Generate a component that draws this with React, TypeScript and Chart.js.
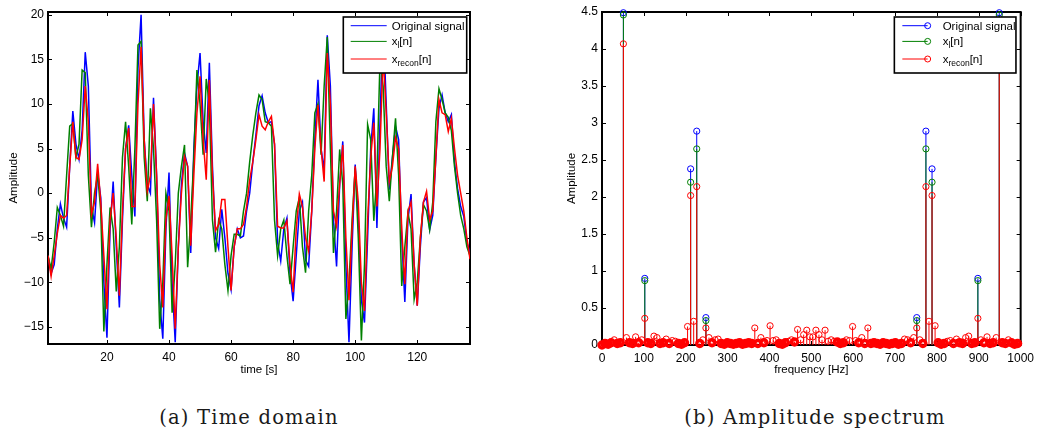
import React, { useEffect, useRef } from "react";
import { Chart, registerables } from "chart.js";

Chart.register(...registerables);

// ---------------- data ----------------
const timeOriginal = [
  -7.0, -9.0, -8.0, -4.0, -1.2, -2.8, -3.8, 3.0, 9.2, 5.5,
  3.8, 7.0, 15.8, 12.0, -1.5, -3.3, 2.3, -0.5, -10.0, -16.2,
  -4.0, 1.3, -6.0, -12.8, -3.0, 5.0, 7.6, 2.0, -2.6, 14.0,
  20.0, 6.0, 1.0, 0.0, 10.7, 2.0, -12.0, -16.3, -4.0, 2.3,
  -10.0, -16.7, -6.0, 1.0, 4.5, 3.0, -6.7, 5.0, 12.0, 15.7,
  8.0, 4.5, 14.6, 3.0, -5.0, -6.2, -1.8, -5.0, -9.0, -10.8,
  -6.0, -4.0, -5.0, -4.8, -2.0, 0.0, 3.5, 6.5, 9.8, 10.9,
  9.0, 7.9, 8.0, 5.5, -5.5, -7.6, -4.0, -2.8, -9.0, -12.1,
  -7.0, -2.0, -1.0, -7.5, -8.2, -2.0, 6.0, 12.7, 5.0, 2.5,
  17.7, 12.0, -3.0, -8.2, 1.0, 5.8, -8.0, -16.7, -6.0, 3.2,
  -3.0, -12.0, -14.5, -5.0, 5.0, 9.5, -3.9, 8.0, 19.5, 10.0,
  0.4, 4.0, 7.5, 6.0, -5.0, -12.2, -3.0, -0.1, -8.0, -12.6,
  -6.0, -1.0, -0.5, -4.1, -2.5, 4.0, 9.5, 11.0, 9.0, 8.0,
  8.8, 3.5, 0.5, -1.5, -2.6, -5.5, -6.7,
];

const timeXl = [
  -7.0, -8.5, -5.5, -1.6, -2.5, -3.7, 2.0, 7.5, 7.8, 4.0,
  5.5, 13.8, 13.5, 2.0, -3.8, 0.0, 2.1, -2.0, -15.5, -8.0,
  -1.6, -4.0, -11.0, -6.0, 4.0, 8.0, 3.0, -3.5, 5.0, 16.6,
  17.0, 4.0, -0.9, 9.5, 5.0, -3.0, -15.2, -10.0, 0.0, -2.0,
  -13.4, -8.0, 0.0, 3.0, 5.4, -8.3, -3.0, 4.0, 13.8, 10.0,
  4.3, 12.8, 10.0, -3.0, -6.6, -3.0, -4.0, -8.0, -10.9, -7.0,
  -4.6, -4.6, -4.8, -2.0, 0.0, 3.5, 6.5, 9.0, 11.0, 10.5,
  8.0, 7.9, 7.5, -3.0, -7.0, -4.0, -3.0, -7.0, -10.2, -6.0,
  -2.0, -0.5, -6.0, -8.9, -2.0, 2.0, 9.0, 10.0, 4.3, 12.0,
  17.5, 5.0, -6.7, -2.0, 4.9, 1.0, -14.1, -10.0, -3.0, 2.8,
  -5.0, -16.5, -8.0, 7.7, 6.0, -3.1, 2.0, 15.0, 12.0, 3.0,
  -0.9, 4.0, 8.4, 2.0, -10.4, -6.0, -2.2, -4.0, -11.9, -10.0,
  -5.0, -1.3, -2.0, -4.1, -1.0, 8.0, 11.7, 10.5, 9.0, 8.5,
  7.0, 3.0, 0.0, -2.5, -4.0, -6.0, -7.0,
];

const timeRecon = [
  -7.0, -9.3, -7.0, -4.5, -2.5, -2.8, -2.5, 3.0, 8.0, 4.0,
  3.8, 6.0, 12.0, 8.0, -2.4, -1.0, 3.3, -1.0, -7.0, -13.0,
  -3.0, 0.0, -5.0, -11.5, -2.0, 5.0, 7.3, -1.5, -1.5, 10.0,
  16.4, 6.0, 0.2, 2.0, 10.0, 2.0, -8.0, -12.8, -3.0, -0.3,
  -7.0, -15.2, -6.0, 0.0, 4.1, 3.0, -5.9, 2.0, 9.0, 13.1,
  6.0, 1.5, 12.7, 2.0, -4.2, -3.5, -0.7, -0.7, -6.0, -10.9,
  -6.0, -4.0, -4.0, -3.5, -1.5, 1.5, 3.5, 6.0, 8.8, 7.5,
  7.1, 8.0, 8.6, 5.5, -3.7, -3.9, -3.9, -3.1, -8.0, -11.1,
  -4.0, -0.1, -1.5, -5.0, -6.5, -2.0, 5.0, 9.9, 5.0, 1.3,
  15.7, 10.0, -2.0, -3.7, 1.0, 5.4, -5.0, -12.0, -4.0, 3.0,
  -1.0, -10.0, -13.2, -3.0, 4.0, 7.9, -1.5, 5.0, 15.5, 9.0,
  1.3, 3.0, 6.2, 5.0, -4.0, -10.2, -2.0, -1.0, -8.0, -12.6,
  -5.0, -1.0, 0.2, -3.0, -2.0, 4.0, 10.5, 9.0, 8.8, 6.9,
  8.4, 5.0, 2.0, 0.0, -2.0, -5.0, -7.4,
];

const timeTicks = [20, 40, 60, 80, 100, 120];
const ampTicks = [-15, -10, -5, 0, 5, 10, 15, 20];
const freqTicks = [0, 100, 200, 300, 400, 500, 600, 700, 800, 900, 1000];
const specTicks = [0, 0.5, 1, 1.5, 2, 2.5, 3, 3.5, 4, 4.5];

const SAMPLE_RATE = 1000;
const peakBins = [7, 14, 29, 31, 34, 103, 106, 108, 123, 130];
const peakOriginal = [4.49, 0.9, 2.38, 2.89, 0.37, 0.37, 2.89, 2.38, 0.9, 4.49];
const peakXl = [4.46, 0.87, 2.2, 2.65, 0.33, 0.33, 2.65, 2.2, 0.87, 4.46];
const specRecon = [
  0.00, 0.02, 0.01, 0.03, 0.07, 0.02, 0.03, 4.07, 0.10, 0.03,
  0.02, 0.11, 0.03, 0.07, 0.36, 0.03, 0.02, 0.12, 0.10, 0.02,
  0.03, 0.08, 0.02, 0.06, 0.05, 0.02, 0.01, 0.03, 0.25, 2.02,
  0.32, 2.14, 0.02, 0.07, 0.23, 0.10, 0.03, 0.07, 0.08, 0.02,
  0.01, 0.03, 0.02, 0.01, 0.02, 0.03, 0.01, 0.02, 0.03, 0.02,
  0.23, 0.02, 0.10, 0.03, 0.06, 0.26, 0.06, 0.07, 0.02, 0.01,
  0.03, 0.05, 0.07, 0.04, 0.21, 0.07, 0.14, 0.20, 0.11, 0.11,
  0.20, 0.14, 0.07, 0.20, 0.05, 0.07, 0.05, 0.04, 0.02, 0.03,
  0.07, 0.06, 0.25, 0.06, 0.03, 0.10, 0.02, 0.23, 0.02, 0.03,
  0.02, 0.01, 0.03, 0.02, 0.01, 0.02, 0.03, 0.01, 0.02, 0.08,
  0.07, 0.03, 0.10, 0.23, 0.07, 0.02, 2.14, 0.32, 2.02, 0.26,
  0.03, 0.01, 0.02, 0.05, 0.06, 0.02, 0.08, 0.03, 0.02, 0.10,
  0.12, 0.02, 0.03, 0.36, 0.07, 0.03, 0.11, 0.02, 0.03, 0.10,
  4.07, 0.03, 0.02, 0.07, 0.03, 0.01, 0.02,
];

const seriesNames = ["Original signal", "x|l|[n]", "x|recon|[n]"];

// ---------------- styles ----------------
const BLUE = "rgb(0,0,255)";
const GREEN = "rgb(0,128,0)";
const RED = "rgb(255,0,0)";
const FONT = '"Liberation Sans", Arial, Helvetica, sans-serif';
const seriesColors = [BLUE, GREEN, RED];

const fmt = (v: any) => String(v).replace("-", "\u2212");

// frame + inward ticks on all four sides
const framePlugin = {
  id: "matFrame",
  beforeDatasetsDraw(chart: any) {
    const { ctx, chartArea: a, scales } = chart;
    const xs = scales.x;
    const ys = scales.y;
    ctx.save();
    ctx.strokeStyle = "#000";
    ctx.lineWidth = 1;
    ctx.beginPath();
    xs.ticks.forEach((t: any) => {
      const p = Math.round(xs.getPixelForValue(t.value)) + 0.5;
      ctx.moveTo(p, a.bottom);
      ctx.lineTo(p, a.bottom - 4);
      ctx.moveTo(p, a.top);
      ctx.lineTo(p, a.top + 4);
    });
    ys.ticks.forEach((t: any) => {
      const p = Math.round(ys.getPixelForValue(t.value)) + 0.5;
      ctx.moveTo(a.left, p);
      ctx.lineTo(a.left + 4, p);
      ctx.moveTo(a.right, p);
      ctx.lineTo(a.right - 4, p);
    });
    ctx.stroke();
    ctx.lineWidth = 2;
    ctx.strokeRect(a.left, a.top, a.right - a.left, a.bottom - a.top);
    ctx.restore();
  },
};

// MATLAB-like legend box with subscripts
const legendPlugin = {
  id: "matLegend",
  afterDraw(chart: any, _args: any, opts: any) {
    if (!opts || !opts.show) return;
    const { ctx, chartArea: a } = chart;
    const w = opts.width;
    const h = 56;
    const x0 = a.right - opts.inset - w;
    const y0 = a.top + 5;
    const rows = [8.7, 24.4, 42];
    ctx.save();
    ctx.fillStyle = "#fff";
    ctx.fillRect(x0, y0, w, h);
    ctx.save();
    ctx.beginPath();
    ctx.rect(x0, y0, w, h);
    ctx.clip();
    seriesNames.forEach((name, i) => {
      const y = y0 + rows[i];
      ctx.strokeStyle = seriesColors[i];
      ctx.lineWidth = 1;
      ctx.beginPath();
      ctx.moveTo(x0 + opts.lineStart, y);
      ctx.lineTo(x0 + opts.lineEnd, y);
      ctx.stroke();
      if (opts.marker) {
        ctx.beginPath();
        ctx.arc(x0 + opts.lineEnd, y, 3, 0, Math.PI * 2);
        ctx.stroke();
      }
      const parts = name.split("|");
      let x = x0 + opts.textStart;
      ctx.fillStyle = "#000";
      ctx.textAlign = "left";
      ctx.textBaseline = "alphabetic";
      parts.forEach((p, j) => {
        const sub = j === 1;
        ctx.font = sub ? `8.5px ${FONT}` : `11.5px ${FONT}`;
        ctx.fillText(p, x, y + (sub ? 7 : 4));
        x += ctx.measureText(p).width;
      });
    });
    ctx.restore();
    ctx.strokeStyle = "#000";
    ctx.lineWidth = 1.6;
    ctx.strokeRect(x0, y0, w, h);
    ctx.restore();
  },
};

const tickFont = { family: FONT, size: 12 };
const titleFont = { family: FONT, size: 11.5 };

function axisX(ticks: number[], min: number, max: number, height: number, title: string) {
  return {
    type: "linear",
    min,
    max,
    afterBuildTicks: (s: any) => {
      s.ticks = ticks.map((value) => ({ value }));
    },
    afterFit: (s: any) => {
      s.height = height;
    },
    grid: { display: false, drawTicks: false },
    border: { display: false },
    ticks: { autoSkip: false, maxRotation: 0, padding: 6, color: "#000", font: tickFont, callback: fmt },
    title: { display: true, text: title, color: "#000", font: titleFont, padding: { top: 0, bottom: 8.6 } },
  };
}

function axisY(ticks: number[], min: number, max: number, width: number, titlePad: number) {
  return {
    type: "linear",
    min,
    max,
    afterBuildTicks: (s: any) => {
      s.ticks = ticks.map((value) => ({ value }));
    },
    afterFit: (s: any) => {
      s.width = width;
    },
    grid: { display: false, drawTicks: false },
    border: { display: false },
    ticks: { autoSkip: false, padding: 4, color: "#000", font: tickFont, callback: fmt },
    title: { display: true, text: "Amplitude", color: "#000", font: titleFont, padding: { top: titlePad, bottom: 0 } },
  };
}

const baseOptions = {
  responsive: false,
  animation: false,
  devicePixelRatio: 1,
  events: [],
};

function timeConfig(): any {
  const series = [timeOriginal, timeXl, timeRecon];
  return {
    type: "line",
    data: {
      datasets: series.map((arr, i) => ({
        label: seriesNames[i],
        data: arr.map((y, n) => ({ x: n + 1, y })),
        borderColor: seriesColors[i],
        borderWidth: 1.5,
        pointRadius: 0,
        tension: 0,
        fill: false,
        order: 3 - i,
      })),
    },
    options: {
      ...baseOptions,
      layout: { padding: { left: 0, right: 20, top: 12, bottom: 0 } },
      scales: {
        x: axisX(timeTicks, 1, timeOriginal.length, 41, "time [s]"),
        y: axisY(ampTicks, -16.9, 20.3, 48, 7.1),
      },
      plugins: {
        legend: { display: false },
        tooltip: { enabled: false },
        matLegend: { show: true, width: 123.4, inset: 3.3, lineStart: 7.4, lineEnd: 43.4, textStart: 48.4, marker: false },
      },
    },
    plugins: [framePlugin, legendPlugin],
  };
}

function specConfig(): any {
  const N = timeOriginal.length;
  const freq = (k: number) => (k * SAMPLE_RATE) / N;
  const allBins = specRecon.map((_, k) => k);
  const stems = (bins: number[], vals: number[]) => {
    const pts: any[] = [];
    bins.forEach((k, i) => {
      pts.push({ x: freq(k), y: 0 }, { x: freq(k), y: vals[i] }, { x: freq(k), y: null });
    });
    return pts;
  };
  const marks = (bins: number[], vals: number[]) => bins.map((k, i) => ({ x: freq(k), y: vals[i] }));
  const groups = [
    { bins: peakBins, vals: peakOriginal, color: BLUE },
    { bins: peakBins, vals: peakXl, color: GREEN },
    { bins: allBins, vals: specRecon, color: RED },
  ];
  const nearZero = (c: any) => c.raw && c.raw.y < 0.045;
  const datasets: any[] = [];
  groups.forEach((g, i) => {
    datasets.push({
      type: "scatter",
      data: stems(g.bins, g.vals),
      showLine: true,
      spanGaps: false,
      borderColor: g.color,
      borderWidth: 1,
      pointRadius: 0,
      order: 6 - 2 * i,
    });
    datasets.push({
      type: "scatter",
      label: seriesNames[i],
      data: marks(g.bins, g.vals),
      showLine: false,
      pointStyle: "circle",
      pointRadius: (c: any) => (nearZero(c) ? 3 : 3.1),
      pointBorderWidth: (c: any) => (nearZero(c) ? 3.4 : 1),
      pointBorderColor: g.color,
      pointBackgroundColor: "rgba(0,0,0,0)",
      clip: false,
      order: 5 - 2 * i,
    });
  });
  return {
    type: "scatter",
    data: { datasets },
    options: {
      ...baseOptions,
      layout: { padding: { left: 0, right: 16, top: 12, bottom: 0 } },
      scales: {
        x: axisX(freqTicks, 0, 1000, 40, "frequency [Hz]"),
        y: axisY(specTicks, 0, 4.5, 62, 24.8),
      },
      plugins: {
        legend: { display: false },
        tooltip: { enabled: false },
        matLegend: { show: true, width: 121.6, inset: 4.7, lineStart: 8, lineEnd: 33.3, textStart: 48.3, marker: true },
      },
    },
    plugins: [framePlugin, legendPlugin],
  };
}

const captionStyle = (center: number): React.CSSProperties => ({
  position: "absolute",
  left: center - 250,
  width: 500,
  top: 406,
  textAlign: "center",
  fontFamily: '"DejaVu Serif", "Liberation Serif", serif',
  fontSize: 19.5,
  lineHeight: "24px",
  letterSpacing: "1.2px",
  color: "#1a1a1a",
  whiteSpace: "nowrap",
});

export default function App() {
  const leftRef = useRef<HTMLCanvasElement>(null);
  const rightRef = useRef<HTMLCanvasElement>(null);

  useEffect(() => {
    const c1 = new Chart(leftRef.current as HTMLCanvasElement, timeConfig());
    const c2 = new Chart(rightRef.current as HTMLCanvasElement, specConfig());
    return () => {
      c1.destroy();
      c2.destroy();
    };
  }, []);

  return (
    <div
      style={{
        position: "fixed",
        left: 0,
        top: 0,
        width: 1040,
        height: 437,
        background: "#fff",
        overflow: "hidden",
      }}
    >
      <canvas
        ref={leftRef}
        width={490}
        height={385}
        style={{ position: "absolute", left: 0, top: 0, width: 490, height: 385 }}
      />
      <canvas
        ref={rightRef}
        width={500}
        height={385}
        style={{ position: "absolute", left: 540, top: 0, width: 500, height: 385 }}
      />
      <div style={captionStyle(249)}>(a) Time domain</div>
      <div style={captionStyle(815)}>(b) Amplitude spectrum</div>
    </div>
  );
}
